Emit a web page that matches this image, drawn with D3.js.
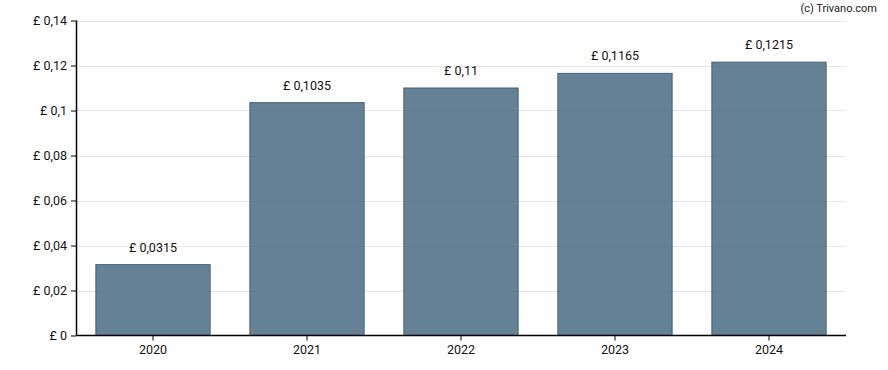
<!DOCTYPE html>
<html><head><meta charset="utf-8">
<script src="https://cdn.jsdelivr.net/npm/d3@7"></script>
<style>body{margin:0;background:#fff;font-family:Roboto,"Noto Sans",sans-serif;}</style>
</head><body><svg id="c" width="888" height="370"></svg>
<script>
const years = ["2020","2021","2022","2023","2024"];
const values = [0.0315, 0.1035, 0.11, 0.1165, 0.1215];
const labels = ["£ 0,0315","£ 0,1035","£ 0,11","£ 0,1165","£ 0,1215"];
const yTicks = [0,0.02,0.04,0.06,0.08,0.1,0.12,0.14];
const yTickLabels = ["£ 0","£ 0,02","£ 0,04","£ 0,06","£ 0,08","£ 0,1","£ 0,12","£ 0,14"];

(function(){
const svg = d3.select("#c");
const mL = 76, mR = 846, mT = 20.5, mB = 335.5;
const x = d3.scaleBand().domain(years).range([mL,mR]).paddingInner(0.258).paddingOuter(0.129);
const y = d3.scaleLinear().domain([0,0.14]).range([mB,mT]);

svg.append("g").selectAll("line").data(yTicks.slice(1)).join("line")
  .attr("x1",mL).attr("x2",mR).attr("y1",d=>Math.round(y(d))+0.5).attr("y2",d=>Math.round(y(d))+0.5)
  .attr("stroke","#e6e6e6").attr("stroke-width",1);

svg.append("g").selectAll("rect").data(values).join("rect")
  .attr("x",(d,i)=>x(years[i])).attr("width",x.bandwidth())
  .attr("y",d=>y(d)).attr("height",d=>mB-y(d))
  .attr("fill","#4a6b82").attr("fill-opacity",0.85)
  .attr("stroke","#45627a").attr("stroke-width",1);

svg.append("g").selectAll("text").data(values).join("text")
  .attr("x",(d,i)=>x(years[i])+x.bandwidth()/2).attr("y",d=>y(d)-13)
  .attr("text-anchor","middle").attr("font-size",12.5).attr("fill","#111")
  .text((d,i)=>labels[i]);

const ya = d3.axisLeft(y).tickValues(yTicks).tickFormat((d,i)=>yTickLabels[i]).tickSize(5).tickPadding(4);
const gy = svg.append("g").attr("transform",`translate(${mL},0)`).call(ya);
gy.select(".domain").attr("stroke","#000").attr("stroke-width",1.5).attr("d",`M0.5,${mT}V${mB}`);
gy.selectAll("text").attr("font-size",12.5).attr("fill","#111").attr("font-family","Roboto");

const xa = d3.axisBottom(x).tickSize(5).tickPadding(5);
const gx = svg.append("g").attr("transform",`translate(0,${mB})`).call(xa);
gx.select(".domain").attr("stroke","#000").attr("stroke-width",1.5).attr("d",`M${mL},0H${mR}`);
gx.selectAll("text").attr("font-size",12.5).attr("fill","#111").attr("font-family","Roboto");

svg.append("text").attr("x",877).attr("y",12).attr("text-anchor","end")
  .attr("font-size",11).attr("fill","#222").text("(c) Trivano.com");
})();
</script></body></html>
